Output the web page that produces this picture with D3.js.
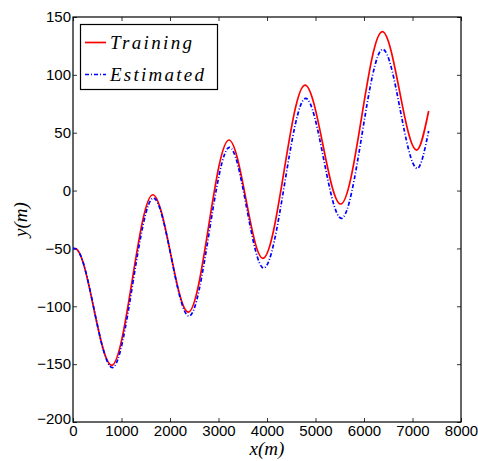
<!DOCTYPE html>
<html><head><meta charset="utf-8">
<script src="https://cdn.jsdelivr.net/npm/d3@7"></script>
<style>body{margin:0;background:#fff;} svg{display:block;}</style>
</head><body>
<script>
// Data (extrema and a few reading points)
const trainingX = [0, 60, 798, 1645, 2378, 3216, 3915, 4784, 5519, 6378, 7086, 7333];
const trainingY = [-50, -50.4, -151, -3.6, -105, 43.7, -58.6, 91.2, -11.6, 137.3, 35, 68.8];
const estimatedX = [0, 60, 812, 1658, 2392, 3228, 3932, 4798, 5533, 6388, 7098, 7333];
const estimatedY = [-50, -50.4, -153, -6.5, -108.5, 37.4, -66.9, 79.7, -24, 122, 19.2, 51.5];
const xTicks = [0, 1000, 2000, 3000, 4000, 5000, 6000, 7000, 8000];
const yTicks = [-200, -150, -100, -50, 0, 50, 100, 150];
const seriesNames = ["Training", "Estimated"];

const W = 478, H = 461;
const m = {l: 73, r: 17, t: 17, b: 39};
const svg = d3.select("body").append("svg").attr("width", W).attr("height", H);

const x = d3.scaleLinear().domain([0, 8000]).range([m.l, W - m.r]);
const y = d3.scaleLinear().domain([-200, 150]).range([H - m.b, m.t]);

const fmt = d => d3.format("")(d);
const tickFont = "'Liberation Sans', Arial, sans-serif";

// axes
const gx = svg.append("g").attr("transform", `translate(0,${H - m.b})`)
  .call(d3.axisBottom(x).tickValues(xTicks).tickFormat(fmt).tickSizeInner(-4).tickSizeOuter(0).tickPadding(6));
const gxt = svg.append("g").attr("transform", `translate(0,${m.t})`)
  .call(d3.axisTop(x).tickValues(xTicks).tickFormat("").tickSizeInner(-4).tickSizeOuter(0));
const gy = svg.append("g").attr("transform", `translate(${m.l},0)`)
  .call(d3.axisLeft(y).tickValues(yTicks).tickFormat(fmt).tickSizeInner(-4).tickSizeOuter(0).tickPadding(2));
const gyr = svg.append("g").attr("transform", `translate(${W - m.r},0)`)
  .call(d3.axisRight(y).tickValues(yTicks).tickFormat("").tickSizeInner(-4).tickSizeOuter(0));
[gx, gxt, gy, gyr].forEach(g => {
  g.select(".domain").remove();
  g.selectAll("line").attr("stroke", "#000").attr("stroke-width", 0.8);
  g.selectAll("text").attr("font-family", tickFont).attr("font-size", 15).attr("fill", "#000");
});
gy.selectAll(".tick").filter(d => d === -200).select("text").attr("dy", "0.1em");
gx.selectAll("text").attr("dy", "0.55em");

svg.append("rect").attr("x", m.l).attr("y", m.t)
  .attr("width", W - m.l - m.r).attr("height", H - m.t - m.b)
  .attr("fill", "none").attr("stroke", "#000").attr("stroke-width", 1.2);

const line = d3.line().x(d => x(d[0])).y(d => y(d[1])).curve(d3.curveMonotoneX);
const tr = trainingX.map((v, i) => [v, trainingY[i]]);
const es = estimatedX.map((v, i) => [v, estimatedY[i]]);

const blueDash = "4,2,1,2";
svg.append("path").datum(tr).attr("d", line).attr("fill", "none")
  .attr("stroke", "#ff0000").attr("stroke-width", 1.7);
svg.append("path").datum(es).attr("d", line).attr("fill", "none")
  .attr("stroke", "#0000ff").attr("stroke-width", 1.7).attr("stroke-dasharray", blueDash);

// legend
const lg = svg.append("g");
lg.append("rect").attr("x", 80.5).attr("y", 24.5).attr("width", 137).attr("height", 65)
  .attr("fill", "#fff").attr("stroke", "#000").attr("stroke-width", 1.2);
const serif = "'Liberation Serif', 'Times New Roman', serif";
const legendItems = [
  {name: seriesNames[0], color: "#ff0000", dash: null, yy: 42.5, len: 82},
  {name: seriesNames[1], color: "#0000ff", dash: blueDash, yy: 74.5, len: 94}
];
legendItems.forEach(it => {
  lg.append("line").attr("x1", 85).attr("x2", 106).attr("y1", it.yy).attr("y2", it.yy)
    .attr("stroke", it.color).attr("stroke-width", it.dash ? 1.4 : 1.7)
    .attr("stroke-dasharray", it.dash);
  lg.append("text").attr("x", 110).attr("y", it.yy + 6).text(it.name)
    .attr("font-family", serif).attr("font-style", "italic").attr("font-size", 19)
    .attr("textLength", it.len).attr("lengthAdjust", "spacing");
});

// axis labels
svg.append("text").attr("x", (m.l + W - m.r) / 2).attr("y", 455).attr("text-anchor", "middle")
  .attr("font-family", serif).attr("font-style", "italic").attr("font-size", 19).text("x(m)");
svg.append("text").attr("transform", `translate(27,${(m.t + H - m.b) / 2}) rotate(-90)`)
  .attr("text-anchor", "middle")
  .attr("font-family", serif).attr("font-style", "italic").attr("font-size", 19).text("y(m)");
</script>
</body></html>
